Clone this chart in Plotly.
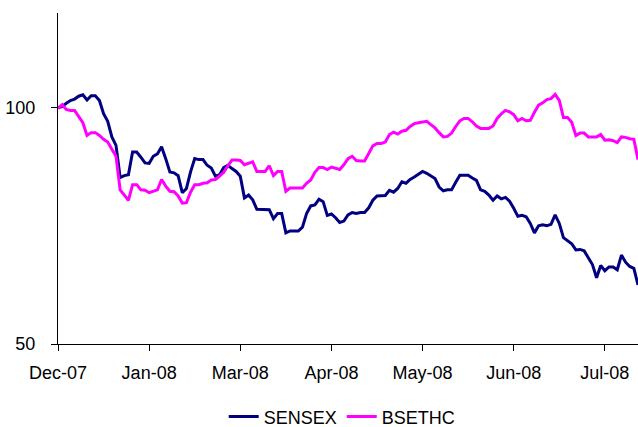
import plotly.graph_objects as go

tick_labels = ["Dec-07", "Jan-08", "Mar-08", "Apr-08", "May-08", "Jun-08", "Jul-08"]
tick_every = 22

sensex = [
    100.0, 100.2, 100.9, 101.5, 101.8, 102.4, 102.7, 101.6, 102.5, 102.5,
    101.5, 98.7, 97.1, 93.8, 92.0, 85.2, 85.6, 85.8, 90.6, 90.6,
    89.5, 88.3, 88.2, 89.7, 90.2, 91.7, 89.2, 86.4, 86.2, 85.6,
    82.0, 82.9, 86.4, 89.2, 89.0, 89.0, 87.8, 87.2, 85.5, 85.8,
    87.3, 87.8, 87.1, 86.5, 85.5, 80.9, 81.5, 80.5, 78.5, 78.5,
    78.4, 78.4, 76.5, 77.6, 77.6, 73.5, 73.9, 73.9, 73.9, 74.7,
    77.6, 79.2, 79.4, 80.6, 80.1, 77.2, 77.5, 76.7, 75.7, 76.0,
    77.3, 77.8, 77.6, 77.8, 77.8, 78.8, 80.4, 81.3, 81.3, 81.4,
    82.5, 82.1, 82.9, 84.3, 84.0, 84.8, 85.3, 85.9, 86.5, 86.1,
    85.5, 85.0, 83.2, 82.4, 82.6, 82.6, 84.2, 85.7, 85.7, 85.7,
    85.1, 84.6, 82.6, 82.3, 81.5, 80.4, 81.3, 80.7, 81.0, 80.2,
    78.7, 77.0, 77.2, 76.9, 75.5, 73.5, 75.0, 75.2, 75.0, 75.3,
    77.3, 75.5, 72.5, 71.9, 71.2, 69.9, 70.0, 69.7, 68.1, 66.8,
    64.0, 66.6, 65.5, 66.3, 66.3, 65.7, 68.8, 67.3, 66.4, 66.0,
    62.5,
]

bsethc = [
    99.8, 100.6, 99.6, 99.4, 99.4, 98.2, 96.8, 94.1, 94.7, 94.7,
    94.1, 93.3, 92.7, 91.2, 89.7, 82.6, 81.5, 80.4, 83.7, 83.7,
    82.6, 82.5, 82.0, 82.3, 82.6, 84.8, 83.4, 82.3, 82.2, 81.3,
    79.8, 79.9, 82.1, 83.7, 83.7, 84.0, 84.1, 84.7, 84.8, 85.5,
    86.3, 87.7, 88.9, 88.9, 88.8, 87.9, 88.2, 88.5, 86.5, 86.5,
    86.5, 87.7, 85.6, 86.5, 86.5, 82.3, 83.0, 83.0, 83.0, 83.0,
    84.0, 84.7, 86.3, 87.3, 87.3, 86.9, 87.4, 87.2, 86.9, 87.9,
    89.2, 89.7, 88.8, 88.7, 88.7, 90.3, 91.9, 92.4, 92.4, 92.7,
    94.3, 94.8, 94.4, 95.0, 95.2, 96.0, 96.6, 96.8, 97.0, 97.1,
    96.4, 95.7, 94.7, 93.8, 93.9, 94.6, 96.0, 97.2, 97.7, 97.7,
    97.0, 96.1, 95.6, 95.6, 95.6, 96.1, 97.7, 98.7, 99.4, 99.1,
    98.5, 97.2, 97.7, 97.2, 97.3, 99.0, 100.5, 101.0, 101.7, 101.9,
    102.8, 101.5, 97.9, 97.9, 96.9, 94.1, 94.6, 94.6, 93.8, 93.8,
    93.8, 94.3, 93.1, 93.2, 93.0, 92.6, 93.8, 93.7, 93.4, 93.3,
    89.0,
]

x = list(range(len(sensex)))
tickvals = [i * tick_every for i in range(len(tick_labels))]

fig = go.Figure()
fig.add_trace(go.Scatter(x=x, y=sensex, mode="lines", name="SENSEX",
                         line=dict(color="#000080", width=3)))
fig.add_trace(go.Scatter(x=x, y=bsethc, mode="lines", name="BSETHC",
                         line=dict(color="#FF00FF", width=3)))

font = dict(family="Liberation Sans, Arial, sans-serif", size=18, color="#000000")

fig.update_layout(
    width=638, height=427,
    margin=dict(l=58, r=0, t=13, b=83, autoexpand=False),
    paper_bgcolor="white", plot_bgcolor="white",
    font=font,
    showlegend=True,
    legend=dict(orientation="h", x=0.49, xanchor="center", y=-0.22, yanchor="middle",
                font=font, bgcolor="rgba(0,0,0,0)"),
    xaxis=dict(range=[0, len(sensex) - 1], tickmode="array", tickvals=tickvals,
               ticktext=tick_labels, showgrid=False, zeroline=False,
               showline=True, linecolor="#000000", linewidth=1,
               ticks="outside", ticklen=6, tickcolor="#000000",
               ticklabelstandoff=6, tickfont=font, automargin=False),
    yaxis=dict(range=[50, 120], tickmode="array", tickvals=[50, 100],
               showgrid=False, zeroline=False,
               showline=True, linecolor="#000000", linewidth=1,
               ticks="outside", ticklen=6, tickcolor="#000000",
               ticklabelstandoff=12, tickfont=font, automargin=False),
)

fig.write_html("out.html")
